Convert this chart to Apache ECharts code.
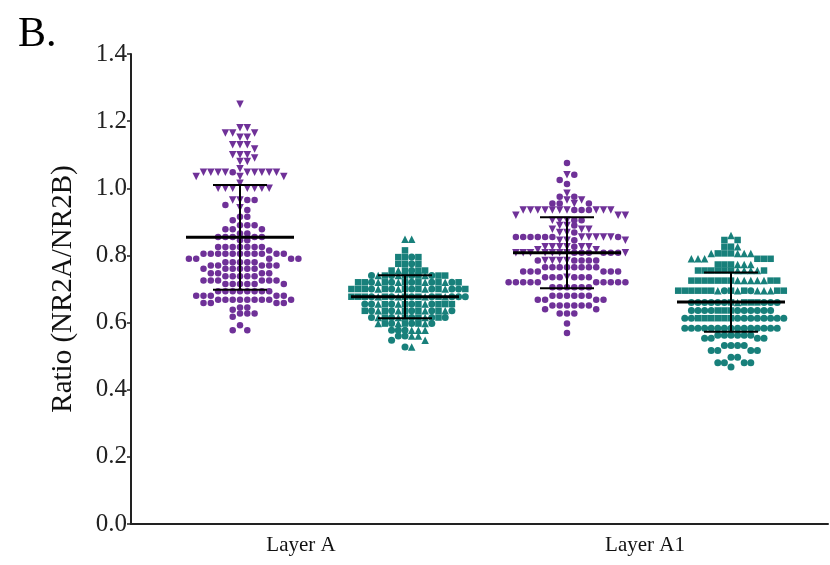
<!DOCTYPE html>
<html>
<head>
<meta charset="utf-8">
<title>NR2A/NR2B ratio</title>
<script src="https://cdn.jsdelivr.net/npm/echarts@6/dist/echarts.min.js"></script>
<style>
  html, body { margin: 0; padding: 0; background: #fff; }
  #chart { width: 830px; height: 565px; }
</style>
</head>
<body>
<div id="chart"></div>
<script>
// ---- data -------------------------------------------------------------
const categories = ['Layer A', 'Layer A1'];
const yTickValues = [0, 0.2, 0.4, 0.6, 0.8, 1.0, 1.2, 1.4];

// Layer A, first subgroup (purple)
const layerA_purple_tri = [
  1.25,
  1.18, 1.18,
  1.165, 1.165, 1.165,
  1.152, 1.152,
  1.13, 1.13, 1.13,
  1.117,
  1.10, 1.10, 1.10,
  1.09,
  1.08, 1.08,
  1.058,
  1.048, 1.048, 1.048, 1.048, 1.048, 1.048, 1.048, 1.048, 1.048,
  1.035, 1.035, 1.035,
  1.015,
  1.0, 1.0, 1.0, 1.0, 1.0, 1.0, 1.0,
  0.965, 0.965,
  0.942
];
const layerA_purple_dot = [
  1.048,
  0.965, 0.965,
  0.95,
  0.935,
  0.915, 0.915,
  0.905,
  0.89, 0.89, 0.89,
  0.878, 0.878, 0.878,
  0.865, 0.865,
  0.855, 0.855, 0.855, 0.855, 0.855,
  0.845, 0.845,
  0.825, 0.825, 0.825, 0.825, 0.825, 0.825, 0.825,
  0.815,
  0.805, 0.805, 0.805, 0.805, 0.805, 0.805, 0.805, 0.805, 0.805, 0.805, 0.805,
  0.79, 0.79, 0.79, 0.79, 0.79,
  0.78, 0.78, 0.78, 0.78, 0.78,
  0.77, 0.77, 0.77, 0.77, 0.77,
  0.76, 0.76, 0.76, 0.76, 0.76, 0.76,
  0.747, 0.747, 0.747, 0.747,
  0.738, 0.738, 0.738, 0.738, 0.738,
  0.725, 0.725, 0.725, 0.725, 0.725, 0.725,
  0.715, 0.715, 0.715, 0.715, 0.715, 0.715,
  0.693, 0.693, 0.693, 0.693, 0.693, 0.693, 0.693, 0.693,
  0.68, 0.68, 0.68, 0.68, 0.68,
  0.668, 0.668, 0.668, 0.668, 0.668, 0.668, 0.668, 0.668, 0.668,
  0.658, 0.658, 0.658, 0.658,
  0.645, 0.645,
  0.638,
  0.627, 0.627, 0.627,
  0.617,
  0.592,
  0.577, 0.577
];

// Layer A, second subgroup (teal)
const layerA_teal_sq = [
  0.815,
  0.795, 0.795, 0.795,
  0.775, 0.775, 0.775,
  0.755, 0.755, 0.755, 0.755,
  0.74, 0.74, 0.74, 0.74, 0.74,
  0.72, 0.72, 0.72, 0.72, 0.72, 0.72, 0.72,
  0.70, 0.70, 0.70, 0.70, 0.70, 0.70, 0.70, 0.70,
  0.677, 0.677, 0.677, 0.677, 0.677, 0.677, 0.677,
  0.655, 0.655, 0.655, 0.655, 0.655, 0.655,
  0.635, 0.635, 0.635, 0.635, 0.635,
  0.615, 0.615, 0.615, 0.615,
  0.597, 0.597, 0.597
];
const layerA_teal_dot = [
  0.795,
  0.775,
  0.755,
  0.74, 0.74, 0.74, 0.74,
  0.72, 0.72, 0.72, 0.72, 0.72,
  0.70, 0.70, 0.70, 0.70, 0.70, 0.70,
  0.677, 0.677, 0.677, 0.677, 0.677, 0.677, 0.677,
  0.655, 0.655, 0.655, 0.655, 0.655,
  0.635, 0.635, 0.635, 0.635, 0.635,
  0.615, 0.615, 0.615, 0.615, 0.615,
  0.597, 0.597, 0.597,
  0.577, 0.577, 0.577,
  0.56, 0.56,
  0.547,
  0.527
];
const layerA_teal_tri = [
  0.848, 0.848,
  0.755,
  0.74, 0.74, 0.74,
  0.72, 0.72, 0.72, 0.72,
  0.70, 0.70, 0.70, 0.70,
  0.677, 0.677, 0.677, 0.677,
  0.655, 0.655, 0.655,
  0.635, 0.635, 0.635, 0.635,
  0.615, 0.615, 0.615,
  0.597, 0.597, 0.597,
  0.577, 0.577, 0.577,
  0.56, 0.56,
  0.547,
  0.527
];

// Layer A1, first subgroup (purple)
const layerA1_purple_tri = [
  1.04,
  0.985,
  0.965, 0.965,
  0.955,
  0.935, 0.935, 0.935, 0.935, 0.935, 0.935, 0.935, 0.935, 0.935, 0.935,
  0.92, 0.92, 0.92,
  0.905, 0.905, 0.905,
  0.889, 0.889,
  0.878, 0.878, 0.878,
  0.868, 0.868,
  0.855, 0.855, 0.855, 0.855, 0.855,
  0.845, 0.845, 0.845,
  0.826, 0.826, 0.826, 0.826, 0.826, 0.826,
  0.817, 0.817,
  0.808, 0.808, 0.808, 0.808, 0.808, 0.808, 0.808, 0.808,
  0.785, 0.785, 0.785, 0.785,
  0.735
];
const layerA1_purple_dot = [
  1.075,
  1.04,
  1.025,
  1.013,
  0.975, 0.975,
  0.955, 0.955, 0.955,
  0.935, 0.935, 0.935,
  0.905, 0.905,
  0.889,
  0.868,
  0.855, 0.855, 0.855, 0.855, 0.855, 0.855, 0.855,
  0.845,
  0.826,
  0.808, 0.808, 0.808, 0.808, 0.808, 0.808,
  0.785, 0.785, 0.785, 0.785, 0.785,
  0.765, 0.765, 0.765, 0.765, 0.765, 0.765, 0.765, 0.765,
  0.752, 0.752, 0.752, 0.752, 0.752, 0.752,
  0.735, 0.735, 0.735, 0.735, 0.735, 0.735,
  0.72, 0.72, 0.72, 0.72, 0.72, 0.72, 0.72, 0.72, 0.72, 0.72,
  0.705, 0.705, 0.705, 0.705, 0.705, 0.705,
  0.68, 0.68, 0.68, 0.68, 0.68, 0.68,
  0.668, 0.668, 0.668, 0.668,
  0.651, 0.651, 0.651, 0.651, 0.651, 0.651,
  0.64, 0.64,
  0.627, 0.627, 0.627,
  0.597,
  0.569
];

// Layer A1, second subgroup (teal)
const layerA1_teal_tri = [
  0.859,
  0.826,
  0.806, 0.806, 0.806, 0.806,
  0.79, 0.79, 0.79,
  0.773, 0.773, 0.773,
  0.755, 0.755, 0.755, 0.755,
  0.725, 0.725, 0.725, 0.725, 0.725,
  0.695, 0.695, 0.695, 0.695, 0.695,
  0.66
];
const layerA1_teal_sq = [
  0.846, 0.846,
  0.826, 0.826,
  0.806, 0.806, 0.806,
  0.79, 0.79, 0.79,
  0.773, 0.773, 0.773,
  0.755, 0.755, 0.755, 0.755, 0.755, 0.755, 0.755,
  0.725, 0.725, 0.725, 0.725, 0.725, 0.725, 0.725, 0.725, 0.725,
  0.695, 0.695, 0.695, 0.695, 0.695, 0.695, 0.695, 0.695, 0.695, 0.695,
  0.66, 0.66, 0.66, 0.66,
  0.636, 0.636, 0.636,
  0.613, 0.613, 0.613, 0.613, 0.613, 0.613
];
const layerA1_teal_dot = [
  0.695, 0.695,
  0.66, 0.66, 0.66, 0.66, 0.66, 0.66, 0.66, 0.66, 0.66,
  0.636, 0.636, 0.636, 0.636, 0.636, 0.636, 0.636, 0.636, 0.636, 0.636,
  0.613, 0.613, 0.613, 0.613, 0.613, 0.613, 0.613, 0.613, 0.613, 0.613,
  0.583, 0.583, 0.583, 0.583, 0.583, 0.583, 0.583, 0.583, 0.583, 0.583, 0.583, 0.583, 0.583, 0.583, 0.583,
  0.562, 0.562, 0.562, 0.562, 0.562, 0.562,
  0.553, 0.553, 0.553, 0.553,
  0.532, 0.532, 0.532, 0.532,
  0.517, 0.517, 0.517, 0.517,
  0.497, 0.497,
  0.48, 0.48, 0.48, 0.48,
  0.468
];

// summary lines: mean and standard deviation per column
const groupMeans = [0.854, 0.677, 0.808, 0.661];
const groupSDs   = [0.156, 0.064, 0.106, 0.088];

// ---- layout -----------------------------------------------------------
const GRID = { left: 131, right: 2, top: 54, bottom: 41 };
const WIDTH = 830, HEIGHT = 565;
const Y_MAX = 1.4;
const PX_PER_Y = (HEIGHT - GRID.top - GRID.bottom) / Y_MAX;
const PX_PER_X = 100;                     // one x unit = 100 px
const X_MAX = (WIDTH - GRID.left - GRID.right) / PX_PER_X;
const groupCenters = [1.09, 2.74, 4.36, 6.00];
const labelCenters = [1.70, 5.14];

const PURPLE = '#6f3198';
const TEAL = '#18807b';

const SYM = {
  dotP: { symbol: 'circle', size: 6.5, rotate: 0 },
  triDown: { symbol: 'triangle', size: 7.5, rotate: 180 },
  dotT: { symbol: 'circle', size: 7, rotate: 0 },
  sq: { symbol: 'rect', size: 6.5, rotate: 0 },
  triUp: { symbol: 'triangle', size: 7.5, rotate: 0 }
};

// Column scatter placement: x positions snap to evenly spaced slots around
// the column centre; each point takes the nearest slot where no earlier
// point sits closer than minDy vertically.
function swarm(parts, center, slotPx, minDy) {
  const items = [];
  parts.forEach((p, pi) => {
    const seen = {};
    p.values.forEach(v => {
      const k = seen[v] = (seen[v] || 0) + 1;
      items.push({ v, sym: p.sym, k, pi });
    });
  });
  items.sort((a, b) => (b.v - a.v) || (a.k - b.k) || (a.pi - b.pi));
  const slots = new Map();
  const out = [];
  items.forEach(it => {
    const y = it.v * PX_PER_Y;
    let slot = 0;
    for (let i = 0; i < 200; i++) {
      const s = (i % 2 ? 1 : -1) * Math.ceil(i / 2);
      const ys = slots.get(s) || [];
      if (ys.every(q => Math.abs(q - y) >= minDy)) { slot = s; break; }
    }
    if (!slots.has(slot)) slots.set(slot, []);
    slots.get(slot).push(y);
    out.push({
      value: [center + slot * slotPx / PX_PER_X, it.v],
      symbol: it.sym.symbol,
      symbolSize: it.sym.size,
      symbolRotate: it.sym.rotate
    });
  });
  return out;
}

const groups = [
  { color: PURPLE, slot: 7.3, dy: 5.2, parts: [
    { values: layerA_purple_tri, sym: SYM.triDown },
    { values: layerA_purple_dot, sym: SYM.dotP } ] },
  { color: TEAL, slot: 6.7, dy: 5.0, parts: [
    { values: layerA_teal_sq, sym: SYM.sq },
    { values: layerA_teal_dot, sym: SYM.dotT },
    { values: layerA_teal_tri, sym: SYM.triUp } ] },
  { color: PURPLE, slot: 7.3, dy: 5.2, parts: [
    { values: layerA1_purple_tri, sym: SYM.triDown },
    { values: layerA1_purple_dot, sym: SYM.dotP } ] },
  { color: TEAL, slot: 6.6, dy: 5.8, parts: [
    { values: layerA1_teal_sq, sym: SYM.sq },
    { values: layerA1_teal_tri, sym: SYM.triUp },
    { values: layerA1_teal_dot, sym: SYM.dotT } ] }
];

const FONT = "'Liberation Serif', 'Times New Roman', serif";

const scatterSeries = groups.map((g, i) => ({
  type: 'scatter',
  data: swarm(g.parts, groupCenters[i], g.slot, g.dy),
  itemStyle: { color: g.color, opacity: 1 },
  silent: true,
  z: 2
}));

const summarySeries = {
  type: 'custom',
  data: groupCenters.map((c, i) => [c, groupMeans[i], groupSDs[i]]),
  encode: { x: 0, y: 1 },
  z: 5,
  silent: true,
  renderItem: (params, api) => {
    const x = api.value(0), m = api.value(1), s = api.value(2);
    const c = api.coord([x, m]);
    const hi = api.coord([x, m + s]);
    const lo = api.coord([x, m - s]);
    const meanHalf = 54, capHalf = 27;
    const st = w => ({ stroke: '#000', lineWidth: w });
    return {
      type: 'group',
      children: [
        { type: 'line', shape: { x1: c[0], y1: hi[1], x2: c[0], y2: lo[1] }, style: st(2) },
        { type: 'line', shape: { x1: c[0] - capHalf, y1: hi[1], x2: c[0] + capHalf, y2: hi[1] }, style: st(2) },
        { type: 'line', shape: { x1: c[0] - capHalf, y1: lo[1], x2: c[0] + capHalf, y2: lo[1] }, style: st(2) },
        { type: 'line', shape: { x1: c[0] - meanHalf, y1: c[1], x2: c[0] + meanHalf, y2: c[1] }, style: st(3) }
      ]
    };
  }
};

const chart = echarts.init(document.getElementById('chart'), null, { renderer: 'canvas' });
chart.setOption({
  animation: false,
  backgroundColor: '#fff',
  title: {
    text: 'B.',
    left: 13, top: 9,
    textStyle: { fontFamily: FONT, fontSize: 42, fontWeight: 'normal', color: '#000' }
  },
  grid: { left: GRID.left, right: GRID.right, top: GRID.top, bottom: GRID.bottom, containLabel: false },
  xAxis: {
    type: 'value',
    min: 0, max: X_MAX,
    axisLine: { show: true, onZero: false, lineStyle: { color: '#222', width: 2 } },
    axisTick: { show: false },
    splitLine: { show: false },
    axisLabel: {
      customValues: labelCenters,
      formatter: v => {
        const i = labelCenters.findIndex(c => Math.abs(c - v) < 1e-6);
        return i >= 0 ? categories[i] : '';
      },
      fontFamily: FONT, fontSize: 21, color: '#111', margin: 11
    }
  },
  yAxis: {
    type: 'value',
    min: 0, max: Y_MAX, interval: 0.2,
    name: 'Ratio (NR2A/NR2B)',
    nameLocation: 'middle',
    nameGap: 53,
    nameTextStyle: { fontFamily: FONT, fontSize: 29, color: '#111' },
    axisLine: { show: true, lineStyle: { color: '#222', width: 2 } },
    axisTick: { show: true, inside: false, length: 4, lineStyle: { color: '#222', width: 1.5 }, customValues: yTickValues },
    splitLine: { show: false },
    axisLabel: {
      customValues: yTickValues,
      formatter: v => v.toFixed(1),
      fontFamily: FONT, fontSize: 25, color: '#222', margin: 4
    }
  },
  series: [...scatterSeries, summarySeries]
});
</script>
</body>
</html>
